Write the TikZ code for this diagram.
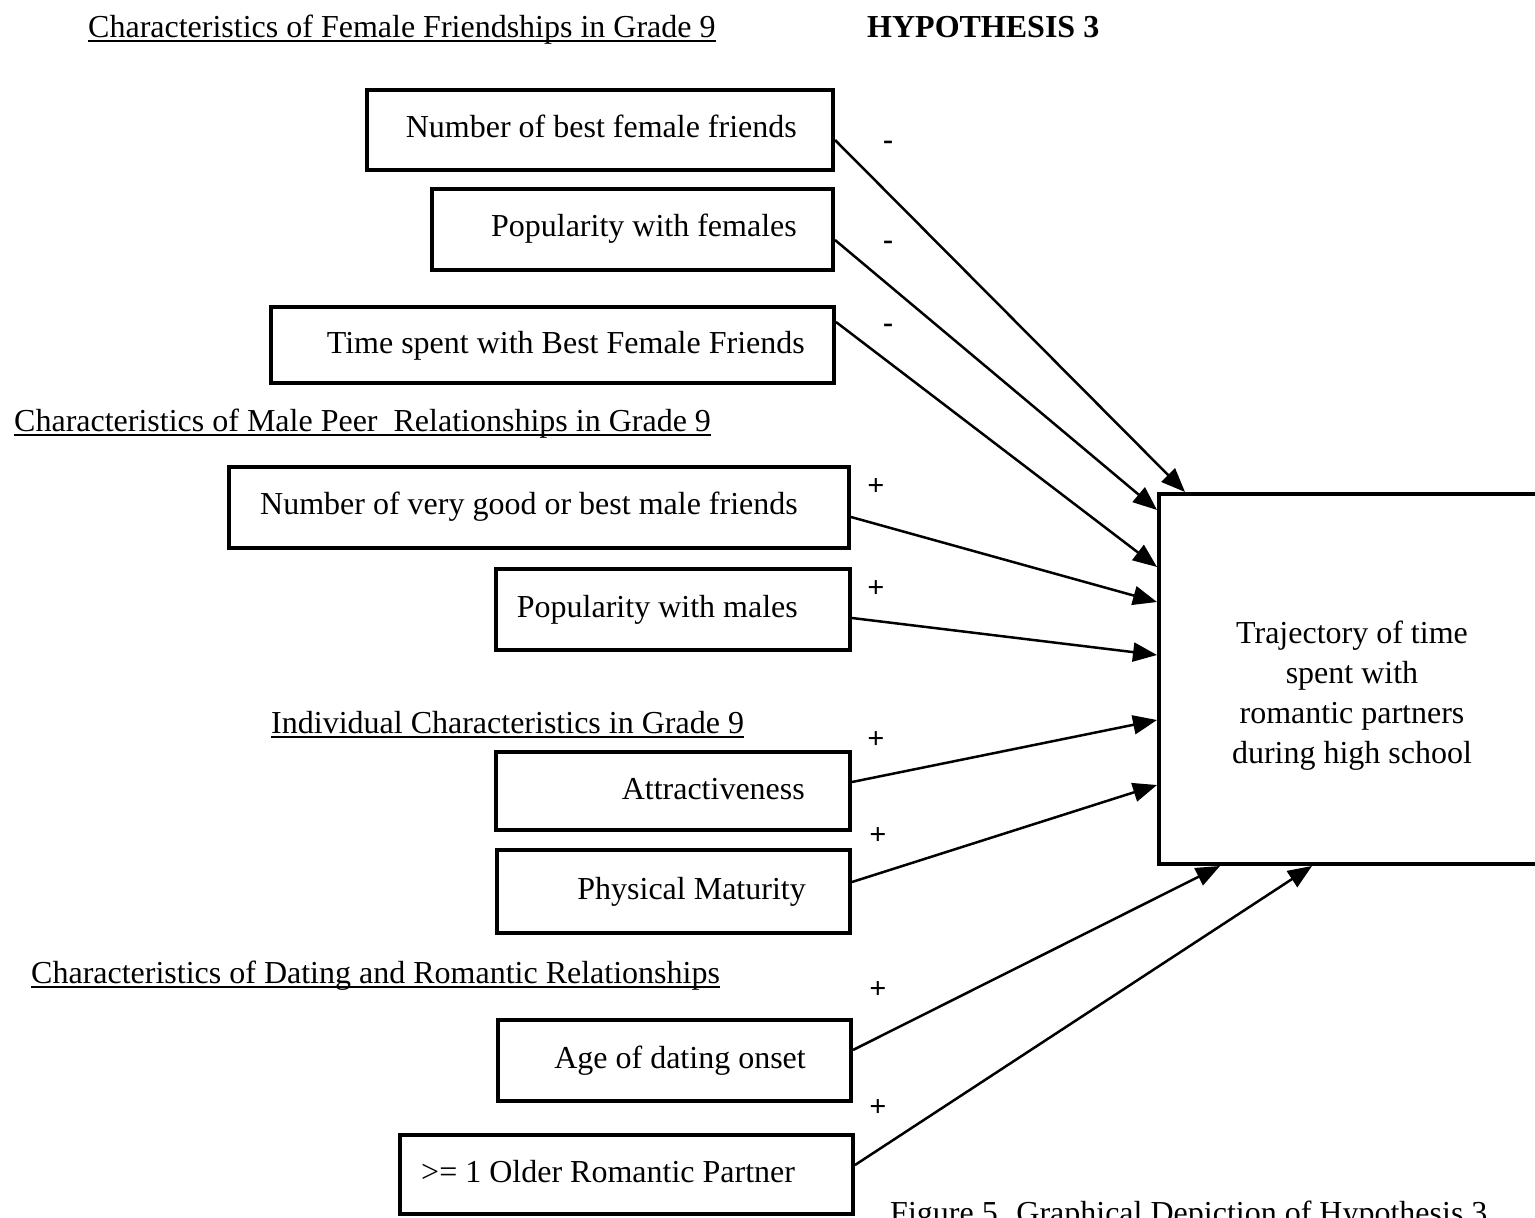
\documentclass[tikz,border=0pt]{standalone}
\usepackage{fontspec}
\setmainfont{Liberation Serif}
\usetikzlibrary{arrows.meta}

\begin{document}
\begin{tikzpicture}[x=1pt,y=-1pt,
  every node/.style={font=\fontsize{32}{40}\selectfont},
  box/.style={draw, line width=4pt, rectangle, inner sep=0pt},
  lbl/.style={anchor=base west, inner sep=0pt},
  txt/.style={anchor=base east, inner sep=0pt},
  link/.style={line width=2.5pt, -{Triangle[length=24pt,width=19pt]}},
  sign/.style={inner sep=0pt, font=\fontsize{30}{30}\selectfont\bfseries},
  uline/.style={line width=1.8pt}]
\useasboundingbox[clip] (0,0) rectangle (1535,1218);
\fill[white] (0,0) rectangle (1535,1218);

% section headings
\node[lbl] (h1) at (88,37) {Characteristics of Female Friendships in Grade 9};
\node[lbl, font=\fontsize{32}{40}\selectfont\bfseries] (hyp) at (867,37) {HYPOTHESIS 3};
\node[lbl] (h2) at (14,431) {Characteristics of Male Peer~ Relationships in Grade 9};
\node[lbl] (h3) at (271,733) {Individual Characteristics in Grade 9};
\node[lbl] (h4) at (31,983) {Characteristics of Dating and Romantic Relationships};
\foreach \h in {h1,h2,h3,h4}
  \draw[uline] ([yshift=-4pt]\h.base west) -- ([yshift=-4pt]\h.base east);

% predictor boxes
\node[box, minimum width=466pt, minimum height=80pt] (b1) at (600,130) {};
\node[box, minimum width=401pt, minimum height=81pt] (b2) at (632.5,229.5) {};
\node[box, minimum width=563pt, minimum height=76pt] (b3) at (552.5,345) {};
\node[box, minimum width=620pt, minimum height=81pt] (b4) at (539,507.5) {};
\node[box, minimum width=354pt, minimum height=81pt] (b5) at (673,609.5) {};
\node[box, minimum width=354pt, minimum height=78pt] (b6) at (673,791) {};
\node[box, minimum width=353pt, minimum height=83pt] (b7) at (673.5,891.5) {};
\node[box, minimum width=353pt, minimum height=81pt] (b8) at (674.5,1060.5) {};
\node[box, minimum width=453pt, minimum height=79pt] (b9) at (626.5,1174.5) {};

\node[txt] (t1) at (797,137) {Number of best female friends};
\node[txt] (t2) at (797,236) {Popularity with females};
\node[txt] (t3) at (805,353) {Time spent with Best Female Friends};
\node[txt] (t4) at (798,514) {Number of very good or best male friends};
\node[txt] (t5) at (798,617) {Popularity with males};
\node[txt] (t6) at (805,799) {Attractiveness};
\node[txt] (t7) at (806,899) {Physical Maturity};
\node[txt] (t8) at (806,1068) {Age of dating onset};
\node[lbl] (t9) at (421,1182) {>= 1 Older Romantic Partner};

% outcome box
\node[box, minimum width=390pt, minimum height=370pt] (big) at (1354,679) {};
\node[align=center, inner sep=0pt] (bigtxt) at (1352,696)
  {Trajectory of time\\spent with\\romantic partners\\during high school};

% paths
\draw[link] ([yshift=-10pt]b1.east) -- ([xshift=28pt]big.north west);
\draw[link] ([yshift=-10.5pt]b2.east) -- ([yshift=-18pt]big.north west);
\draw[link] ([yshift=23pt]b3.east) -- ([yshift=-75pt]big.north west);
\draw[link] ([yshift=-9.5pt]b4.east) -- ([yshift=-110pt]big.north west);
\draw[link] ([yshift=-8.5pt]b5.east) -- ([yshift=-163pt]big.north west);
\draw[link] ([yshift=9pt]b6.east) -- ([yshift=-228pt]big.north west);
\draw[link] ([yshift=9.5pt]b7.east) -- ([yshift=-293pt]big.north west);
\draw[link] ([yshift=10.5pt]b8.east) -- ([xshift=63pt]big.south west);
\draw[link] ([yshift=9.5pt]b9.east) -- ([xshift=155pt]big.south west);

% expected signs
\node[sign] (s1) at (888,145) {-};
\node[sign] (s2) at (888,245) {-};
\node[sign] (s3) at (888,328) {-};
\node[sign] (s4) at (876,487) {+};
\node[sign] (s5) at (876,589) {+};
\node[sign] (s6) at (876,740) {+};
\node[sign] (s7) at (878,836) {+};
\node[sign] (s8) at (878,990) {+};
\node[sign] (s9) at (878,1108) {+};

% caption, running past the lower edge
\node[lbl] (cap) at (890,1223) {Figure 5. Graphical Depiction of Hypothesis 3};
\end{tikzpicture}
\end{document}
